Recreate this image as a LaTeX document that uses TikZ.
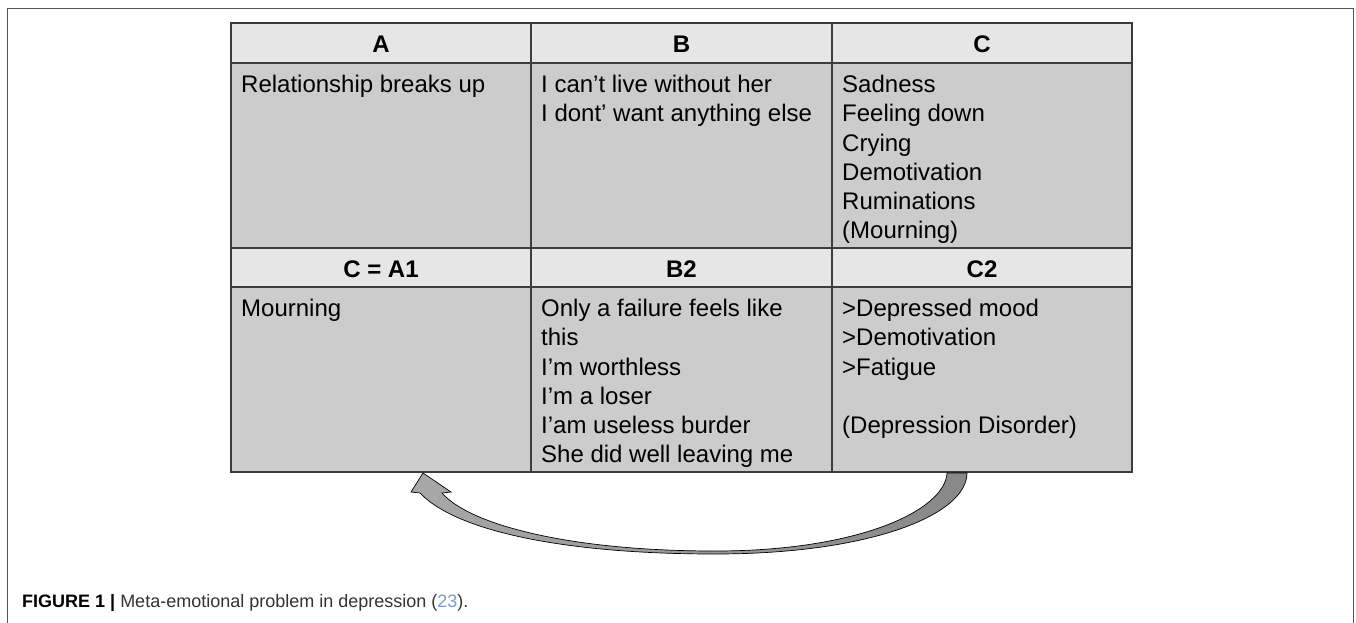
\documentclass[tikz,border=0pt]{standalone}
\usepackage{fontspec}
\setmainfont{Liberation Sans}
\definecolor{hdrfill}{HTML}{E6E6E6}
\definecolor{bodyfill}{HTML}{CCCCCC}
\definecolor{gridc}{HTML}{3C3C3C}
\definecolor{framec}{HTML}{555555}
\definecolor{arrowL}{HTML}{A8A8A8}
\definecolor{arrowR}{HTML}{888888}
\definecolor{capc}{HTML}{333333}
\definecolor{refblue}{HTML}{7A9CC6}
\newcommand\cellfont{\fontsize{24}{29.2}\selectfont}
\tikzset{
  hdrcell/.style={rectangle, draw=gridc, fill=hdrfill, line width=1.3pt, inner sep=0pt, minimum height=#1},
  bodycell/.style={rectangle, draw=gridc, fill=bodyfill, line width=1.3pt, inner sep=0pt, minimum height=#1},
  hdrtext/.style={anchor=base, inner sep=0pt, font=\cellfont\bfseries},
  celltext/.style={anchor=north west, inner sep=0pt, align=left, font=\cellfont},
}
\begin{document}
\begin{tikzpicture}[x=1pt,y=-1pt]
\useasboundingbox (0,0) rectangle (1356,623);
\fill[white] (0,0) rectangle (1356,623);
% outer frame
\draw[framec, line width=1pt] (7,640) -- (7,9) -- (1353,9) -- (1353,640);

% table cells
\node[hdrcell=40pt, minimum width=300pt] (hA) at (381,43) {};
\node[hdrcell=40pt, minimum width=301pt] (hB) at (681.5,43) {};
\node[hdrcell=40pt, minimum width=300pt] (hC) at (982,43) {};
\node[bodycell=185pt, minimum width=300pt] (bA) at (381,155.5) {};
\node[bodycell=185pt, minimum width=301pt] (bB) at (681.5,155.5) {};
\node[bodycell=185pt, minimum width=300pt] (bC) at (982,155.5) {};
\node[hdrcell=39pt, minimum width=300pt] (hA2) at (381,267.5) {};
\node[hdrcell=39pt, minimum width=301pt] (hB2) at (681.5,267.5) {};
\node[hdrcell=39pt, minimum width=300pt] (hC2) at (982,267.5) {};
\node[bodycell=185pt, minimum width=300pt] (bA2) at (381,379.5) {};
\node[bodycell=185pt, minimum width=301pt] (bB2) at (681.5,379.5) {};
\node[bodycell=185pt, minimum width=300pt] (bC2) at (982,379.5) {};

% header texts
\node[hdrtext] (thA) at (381,53) {A};
\node[hdrtext] (thB) at (681.5,53) {B};
\node[hdrtext] (thC) at (982,53) {C};
\node[hdrtext] (thA2) at (381,277) {C = A1};
\node[hdrtext] (thB2) at (681.5,277) {B2};
\node[hdrtext] (thC2) at (982,277) {C2};

% body texts
\node[celltext] (tA) at (241,72) {\strut Relationship breaks up};
\node[celltext] (tB) at (541,72) {\strut I can’t live without her\\I dont’ want anything else};
\node[celltext] (tC) at (842,72) {\strut Sadness\\Feeling down\\Crying\\Demotivation\\Ruminations\\(Mourning)};
\node[celltext] (tA2) at (241,296) {\strut Mourning};
\node[celltext] (tB2) at (541,296) {\strut Only a failure feels like\\this\\I’m worthless\\I’m a loser\\I’am useless burder\\She did well leaving me};
\node[celltext] (tC2) at (842,296) {\strut >Depressed mood\\>Demotivation\\>Fatigue\\\strut\\(Depression Disorder)};

% curved block arrow from C2 back to C = A1
\coordinate (arrTip) at (423,473);
\coordinate (tailIn) at (947,473);
\coordinate (tailOut) at (967,473);
\path[draw=black, line width=0.7pt, left color=arrowL, right color=arrowR]
  (arrTip) -- (451,492) -- (442,493)
  .. controls (470,525) and (570,551) .. (715,551)
  .. controls (860,551) and (945,510) .. (tailIn)
  -- (tailOut)
  .. controls (967,515) and (870,554) .. (715,554)
  .. controls (560,554) and (455,530) .. (420,493)
  -- (411,492) -- cycle;

% caption
\node[anchor=base west, inner sep=0pt, font=\fontsize{18}{22}\selectfont, text=capc] (cap) at (22,607)
  {\textbf{\color{black}FIGURE 1 |} Meta-emotional problem in depression (\textcolor{refblue}{23}).};
\end{tikzpicture}
\end{document}
